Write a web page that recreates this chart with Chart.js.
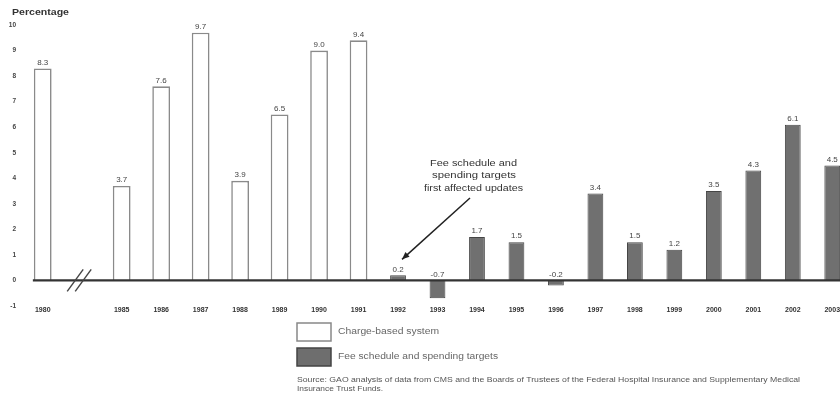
<!DOCTYPE html>
<html>
<head>
<meta charset="utf-8">
<script src="https://cdn.jsdelivr.net/npm/chart.js@4.4.1/dist/chart.umd.min.js"></script>
<style>
  html, body { margin: 0; padding: 0; background: #fff; overflow: hidden; }
  #wrap { width: 840px; height: 394px; overflow: hidden; }
  #wrap canvas { display: block; }
</style>
</head>
<body>
<div id="wrap"><canvas id="updates" width="860" height="394"></canvas></div>
<script>
// Annual physician fee updates, percent
const years = ["1980", "", "1985", "1986", "1987", "1988", "1989", "1990", "1991",
               "1992", "1993", "1994", "1995", "1996", "1997", "1998", "1999",
               "2000", "2001", "2002", "2003"];
const chargeBased = [8.3, null, 3.7, 7.6, 9.7, 3.9, 6.5, 9.0, 9.4,
                     null, null, null, null, null, null, null, null, null, null, null, null];
const feeSchedule = [null, null, null, null, null, null, null, null, null,
                     0.2, -0.7, 1.7, 1.5, -0.2, 3.4, 1.5, 1.2, 3.5, 4.3, 6.1, 4.5];
const yTicks = [-1, 0, 1, 2, 3, 4, 5, 6, 7, 8, 9, 10];

const FONT = "'Liberation Sans', Arial, sans-serif";

// draws text squeezed or stretched to a given width
function fitText(ctx, text, x, y, width) {
    const w = ctx.measureText(text).width;
    ctx.save();
    ctx.translate(x, y);
    ctx.scale(width / w, 1);
    ctx.fillText(text, 0, 0);
    ctx.restore();
}

// value labels, axis break, zero line, note, legend and source
const extras = {
    id: "extras",
    afterDatasetsDraw(chart) {
        const ctx = chart.ctx;
        const x = chart.scales.x, y = chart.scales.y;
        const zero = y.getPixelForValue(0);
        const half = (x.getPixelForValue(1) - x.getPixelForValue(0)) * 0.45 / 2;

        ctx.save();
        // zero line
        ctx.strokeStyle = "#333";
        ctx.lineWidth = 2.2;
        ctx.beginPath();
        ctx.moveTo(x.getPixelForValue(0) - half - 1, zero);
        ctx.lineTo(chart.chartArea.right, zero);
        ctx.stroke();

        // axis break marks
        const bx = x.getPixelForValue(1) - 3;
        ctx.lineWidth = 1.4;
        ctx.strokeStyle = "#444";
        [-4, 4].forEach(function (dx) {
            ctx.beginPath();
            ctx.moveTo(bx + dx - 8, zero + 11);
            ctx.lineTo(bx + dx + 8, zero - 11);
            ctx.stroke();
        });

        // value labels
        ctx.fillStyle = "#444";
        ctx.font = "8px " + FONT;
        ctx.textAlign = "center";
        ctx.textBaseline = "bottom";
        chart.data.datasets.forEach(function (ds, di) {
            const meta = chart.getDatasetMeta(di);
            ds.data.forEach(function (v, i) {
                if (v === null) return;
                const bar = meta.data[i];
                const top = Math.min(bar.y, zero);
                ctx.fillText(v.toFixed(1), bar.x, top - 2);
            });
        });

        // "Percentage"
        ctx.textAlign = "left";
        ctx.textBaseline = "middle";
        ctx.fillStyle = "#333";
        ctx.font = "bold 9px " + FONT;
        fitText(ctx, "Percentage", 12, 13, 57);

        // note with arrow
        ctx.font = "9px " + FONT;
        ctx.textAlign = "left";
        ctx.fillStyle = "#333";
        fitText(ctx, "Fee schedule and", 430, 164, 87);
        fitText(ctx, "spending targets", 432, 176, 84);
        fitText(ctx, "first affected updates", 424, 189, 99);
        const ax = x.getPixelForValue(9) + 4;
        const ay = y.getPixelForValue(0.2) - 16;
        ctx.strokeStyle = "#222";
        ctx.lineWidth = 1.5;
        ctx.beginPath();
        ctx.moveTo(470, 198);
        ctx.lineTo(ax, ay);
        ctx.stroke();
        const ang = Math.atan2(ay - 198, ax - 470);
        ctx.beginPath();
        ctx.moveTo(ax, ay);
        ctx.lineTo(ax - 8 * Math.cos(ang - 0.4), ay - 8 * Math.sin(ang - 0.4));
        ctx.lineTo(ax - 8 * Math.cos(ang + 0.4), ay - 8 * Math.sin(ang + 0.4));
        ctx.closePath();
        ctx.fillStyle = "#222";
        ctx.fill();

        // legend
        ctx.lineWidth = 1.5;
        ctx.fillStyle = "#fff";
        ctx.strokeStyle = "#888";
        ctx.fillRect(297, 323, 34, 18);
        ctx.strokeRect(297, 323, 34, 18);
        ctx.fillStyle = "#6e6e6e";
        ctx.strokeStyle = "#444";
        ctx.fillRect(297, 348, 34, 18);
        ctx.strokeRect(297, 348, 34, 18);
        ctx.fillStyle = "#666";
        ctx.textAlign = "left";
        ctx.font = "8.5px " + FONT;
        fitText(ctx, "Charge-based system", 338, 332, 101);
        fitText(ctx, "Fee schedule and spending targets", 338, 357, 160);

        // source
        ctx.font = "7px " + FONT;
        ctx.fillStyle = "#555";
        fitText(ctx, "Source: GAO analysis of data from CMS and the Boards of Trustees of the Federal Hospital Insurance and Supplementary Medical", 297, 380, 503);
        fitText(ctx, "Insurance Trust Funds.", 297, 389, 86);
        ctx.restore();
    }
};

new Chart(document.getElementById("updates"), {
    type: "bar",
    data: {
        labels: years,
        datasets: [
            {
                label: "Charge-based system",
                data: chargeBased,
                backgroundColor: "#ffffff",
                borderColor: "#8a8a8a",
                borderWidth: 1.6,
                grouped: false,
                categoryPercentage: 1,
                barPercentage: 0.45
            },
            {
                label: "Fee schedule and spending targets",
                data: feeSchedule,
                backgroundColor: "#707070",
                borderColor: "#454545",
                borderWidth: 1,
                grouped: false,
                categoryPercentage: 1,
                barPercentage: 0.4
            }
        ]
    },
    options: {
        responsive: false,
        animation: false,
        layout: { padding: { top: 25, right: 8, left: 0, bottom: 0 } },
        plugins: {
            legend: { display: false },
            tooltip: { enabled: false }
        },
        scales: {
            x: {
                grid: { display: false, drawTicks: false },
                border: { display: false },
                afterFit(scale) { scale.height = 88; },
                ticks: {
                    autoSkip: false,
                    maxRotation: 0,
                    padding: 0,
                    color: "#333",
                    font: { family: FONT, size: 7, weight: "bold" }
                }
            },
            y: {
                min: -1,
                max: 10,
                afterFit(scale) { scale.width = 23; },
                afterBuildTicks(scale) { scale.ticks = yTicks.map(v => ({ value: v })); },
                grid: { display: false, drawTicks: false },
                border: { display: false },
                ticks: {
                    padding: 7,
                    color: "#444",
                    font: { family: FONT, size: 6.5, weight: "bold" }
                }
            }
        }
    },
    plugins: [extras]
});
</script>
</body>
</html>
